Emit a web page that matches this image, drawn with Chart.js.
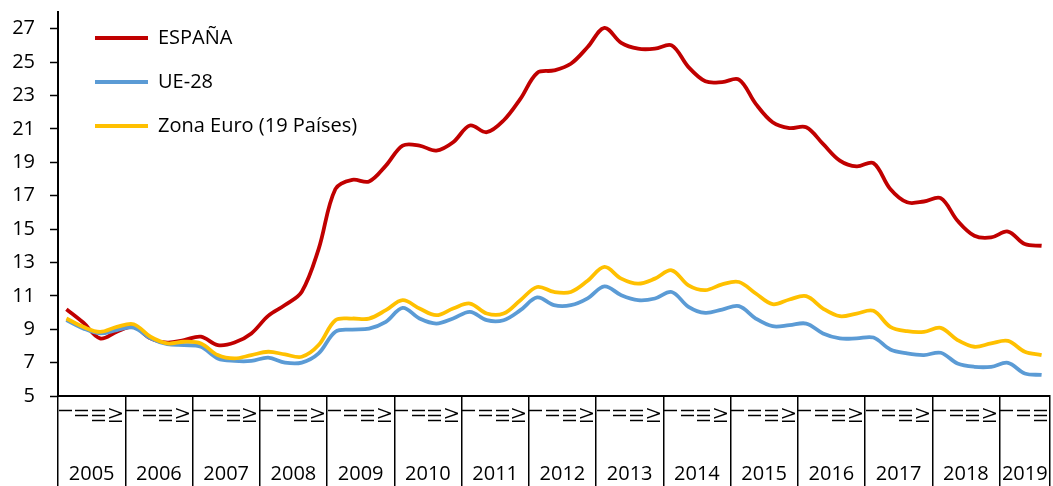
<!DOCTYPE html>
<html><head><meta charset="utf-8">
<script src="https://cdn.jsdelivr.net/npm/chart.js@4/dist/chart.umd.min.js"></script>
<style>html,body{margin:0;padding:0;background:#fff}#wrap{width:1053px;height:486px;position:relative}</style>
</head><body><div id="wrap"><canvas id="c"></canvas></div>
<script>
const years = ['2005','2006','2007','2008','2009','2010','2011','2012','2013','2014','2015','2016','2017','2018','2019'];
const quartersPerYear = [4,4,4,4,4,4,4,4,4,4,4,4,4,4,3];
const quarterNames = ['I','II','III','IV'];
const yTickValues = [5,7,9,11,13,15,17,19,21,23,25,27];

const espana = [10.2,9.4,8.45,8.85, 9.15,8.45,8.2,8.35, 8.55,8.05,8.2,8.75, 9.8,10.45,11.25,13.8,
  17.4,17.95,17.85,18.8, 20.0,20.0,19.7,20.2, 21.2,20.8,21.5,22.8, 24.35,24.5,24.9,25.9,
  27.05,26.15,25.8,25.8, 26.0,24.7,23.85,23.8, 23.95,22.5,21.4,21.05, 21.1,20.1,19.1,18.75,
  18.95,17.4,16.6,16.65, 16.85,15.5,14.6,14.5, 14.85,14.1,14.0];
const ue28 = [9.55,9.05,8.75,8.95, 9.1,8.45,8.1,8.05, 7.95,7.25,7.1,7.1, 7.3,7.0,7.0,7.55,
  8.85,8.98,9.04,9.44, 10.28,9.64,9.34,9.64, 10.04,9.54,9.54,10.14, 10.9,10.44,10.44,10.85,
  11.57,11.04,10.74,10.84, 11.23,10.34,9.98,10.18, 10.38,9.64,9.18,9.24, 9.34,8.75,8.45,8.45,
  8.5,7.79,7.55,7.45, 7.59,6.95,6.75,6.75, 6.99,6.35,6.26];
const zonaEuro = [9.64,9.14,8.84,9.14, 9.3,8.55,8.15,8.25, 8.15,7.45,7.25,7.45, 7.65,7.49,7.35,8.05,
  9.54,9.64,9.64,10.14, 10.74,10.24,9.84,10.24, 10.54,9.94,9.94,10.74, 11.53,11.23,11.23,11.9,
  12.73,12.03,11.73,12.03, 12.53,11.63,11.34,11.69, 11.83,11.14,10.5,10.78, 10.98,10.24,9.78,9.94,
  10.1,9.14,8.88,8.84, 9.08,8.35,7.95,8.15, 8.3,7.65,7.45];

const categories = [];
const yearStartIndex = [];
years.forEach((y, k) => {
  yearStartIndex.push(categories.length);
  for (let q = 0; q < quartersPerYear[k]; q++) categories.push(quarterNames[q]);
});

const FONT = '"Open Sans", "Liberation Sans", sans-serif';

const yearLabels = {
  id: 'yearLabels',
  afterDraw(chart) {
    const xs = chart.scales.x;
    const ctx = chart.ctx;
    ctx.save();
    ctx.font = '20px ' + FONT;
    ctx.fillStyle = '#000';
    ctx.textAlign = 'center';
    ctx.textBaseline = 'middle';
    years.forEach((yr, k) => {
      const a = xs.getPixelForValue(yearStartIndex[k]);
      const b = xs.getPixelForValue(yearStartIndex[k] + quartersPerYear[k] - 1);
      ctx.fillText(yr, (a + b) / 2, 474);
    });
    ctx.restore();
  }
};

const legendShift = {
  id: 'legendShift',
  afterLayout(chart) {
    const lg = chart.legend;
    if (!lg) return;
    lg.left = chart.chartArea.left + 13;
    lg.top = chart.chartArea.top - 8;
  }
};

new Chart(document.getElementById('c'), {
  type: 'line',
  data: {
    labels: categories,
    datasets: [
      { label: 'ESPAÑA', data: espana, borderColor: '#C00000', backgroundColor: '#C00000', order: 3 },
      { label: 'UE-28', data: ue28, borderColor: '#5B9BD5', backgroundColor: '#5B9BD5', order: 2 },
      { label: 'Zona Euro (19 Países)', data: zonaEuro, borderColor: '#FFC000', backgroundColor: '#FFC000', order: 1 }
    ]
  },
  options: {
    responsive: true,
    maintainAspectRatio: false,
    animation: false,
    devicePixelRatio: 1,
    layout: { padding: { top: 12, right: 3, left: 0, bottom: 0 } },
    elements: {
      line: { borderWidth: 3.8, tension: 0.35, capBezierPoints: true },
      point: { radius: 0, hoverRadius: 0 }
    },
    plugins: {
      tooltip: { enabled: false },
      legend: {
        position: 'chartArea',
        align: 'start',
        labels: {
          font: { family: FONT, size: 20 },
          color: '#000',
          boxWidth: 53,
          boxHeight: 4,
          padding: 24,
          sort: (a, b) => a.datasetIndex - b.datasetIndex,
          generateLabels(chart) {
            const items = Chart.defaults.plugins.legend.labels.generateLabels(chart);
            return items.map(it => Object.assign(it, { lineWidth: 0, fillStyle: it.strokeStyle }));
          }
        }
      }
    },
    scales: {
      x: {
        type: 'category',
        offset: true,
        afterFit(s) { s.height = 90; s.paddingLeft = 0; s.paddingRight = 0; },
        border: { display: true, color: '#000', width: 2 },
        grid: {
          display: true,
          offset: true,
          drawOnChartArea: false,
          drawTicks: true,
          tickLength: 90,
          lineWidth: 1.5,
          tickWidth: 1.5,
          tickColor: (ctx) => {
            const i = ctx.index;
            if (i === undefined || i >= categories.length) return '#000';
            return yearStartIndex.includes(i) ? '#000' : 'rgba(0,0,0,0)';
          },
          color: '#000'
        },
        ticks: {
          autoSkip: false,
          maxRotation: 90,
          minRotation: 90,
          padding: -78,
          color: '#000',
          font: { family: FONT, size: 18 }
        }
      },
      y: {
        min: 5,
        max: 28,
        afterFit(s) { s.width = 58; s.paddingTop = 0; s.paddingBottom = 0; },
        afterBuildTicks(s) { s.ticks = yTickValues.map(v => ({ value: v })); },
        border: { display: true, color: '#000', width: 2 },
        grid: {
          display: true,
          drawOnChartArea: false,
          tickLength: 8,
          tickWidth: 1.5,
          tickColor: '#000'
        },
        ticks: {
          padding: 15,
          color: '#000',
          font: { family: FONT, size: 20 }
        }
      }
    }
  },
  plugins: [yearLabels, legendShift]
});
</script>
</body></html>
